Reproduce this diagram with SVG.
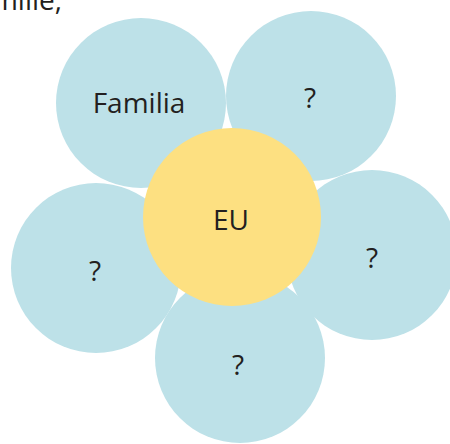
<svg xmlns="http://www.w3.org/2000/svg" width="450" height="444" viewBox="0 0 450 444">
<style>
.petal{fill:#BDE1E8}
.center{fill:#FDE081}
text{font-family:"Open Sans","Noto Sans","Liberation Sans",sans-serif;font-size:28px;fill:#231F20;text-anchor:middle}
</style>
<rect width="450" height="444" fill="#FFFFFF"/>
<text x="62" y="10" style="text-anchor:end">milie,</text>
<g id="petal-familia"><circle class="petal" cx="141" cy="103" r="85"/><text x="139" y="113">Familia</text></g>
<g id="petal-top-right"><circle class="petal" cx="311" cy="96" r="85"/><text x="310" y="108">?</text></g>
<g id="petal-right"><circle class="petal" cx="372" cy="255" r="85"/><text x="372" y="268">?</text></g>
<g id="petal-left"><circle class="petal" cx="96" cy="268" r="85"/><text x="95" y="281">?</text></g>
<g id="petal-bottom"><circle class="petal" cx="240" cy="358" r="85"/><text x="238" y="375">?</text></g>
<g id="center"><circle class="center" cx="232" cy="217" r="89"/><text x="231" y="230">EU</text></g>
<g id="connectors"></g>
</svg>
